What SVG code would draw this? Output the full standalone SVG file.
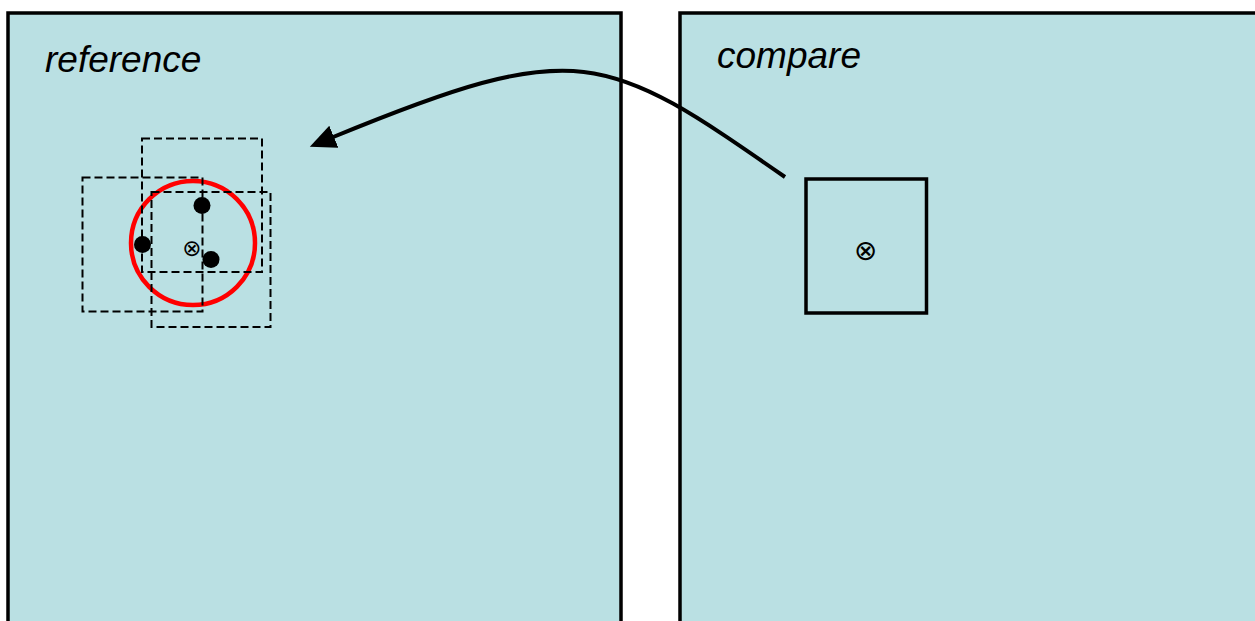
<svg xmlns="http://www.w3.org/2000/svg" width="1255" height="621" viewBox="0 0 1255 621">
  <style>
    .panel { fill: #bae0e3; stroke: #000; stroke-width: 3.5; }
    .title { font-family: "Liberation Sans", Arial, sans-serif; font-style: italic; font-size: 37px; fill: #000; }
    .window { fill: none; stroke: #000; stroke-width: 2; stroke-dasharray: 8 4; }
    .point { fill: #000; }
    .centre { font-family: "DejaVu Sans", sans-serif; fill: #000; text-anchor: middle; }
    .match { fill: none; stroke: #f00; stroke-width: 4.5; }
    .box { fill: none; stroke: #000; stroke-width: 3.5; }
    .link { fill: none; stroke: #000; stroke-width: 4; }
  </style>
  <defs>
    <marker id="head" markerUnits="userSpaceOnUse" markerWidth="28" markerHeight="26" refX="2" refY="12" orient="auto">
      <path d="M0,0 L26,12 L0,24 z" fill="#000"/>
    </marker>
  </defs>
  <rect width="1255" height="621" fill="#fff"/>

  <!-- left frame -->
  <g id="reference">
    <rect class="panel" x="8" y="13" width="613" height="640"/>
    <text class="title" x="45" y="72">reference</text>
  </g>

  <!-- right frame -->
  <g id="compare">
    <rect class="panel" x="680" y="13" width="600" height="640"/>
    <text class="title" x="717" y="68">compare</text>
  </g>

  <!-- search region around the candidate position -->
  <g id="match-circle">
    <circle class="match" cx="193" cy="243" r="62"/>
  </g>
  <g id="window-a">
    <rect class="window" x="142" y="138.5" width="120" height="133.5"/>
    <circle class="point" cx="202" cy="205.5" r="8.5"/>
  </g>
  <g id="window-b">
    <rect class="window" x="82.5" y="177.5" width="120" height="134"/>
    <circle class="point" cx="142.5" cy="244.5" r="8.5"/>
  </g>
  <g id="window-c">
    <rect class="window" x="151.5" y="192" width="119" height="135"/>
    <circle class="point" cx="211" cy="259.5" r="8.5"/>
  </g>
  <g id="centre-ref">
    <text class="centre" x="192" y="255.5" font-size="23">⊗</text>
  </g>

  <!-- block in the compared frame -->
  <g id="block">
    <rect class="box" x="806" y="179" width="120.5" height="134"/>
    <text class="centre" x="865.5" y="259.5" font-size="28">⊗</text>
  </g>

  <g id="connectors">
    <path class="link" d="M785,177 C604.6,51.6 579.75,35.4 332,137.5" marker-end="url(#head)"/>
  </g>
</svg>
